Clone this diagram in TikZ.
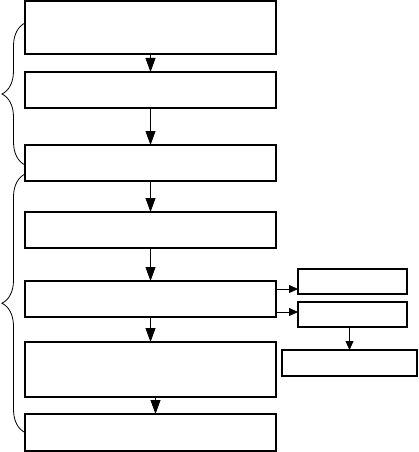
\documentclass[tikz,border=0pt]{standalone}
\usetikzlibrary{positioning,arrows.meta,decorations.pathreplacing}

\begin{document}
\begin{tikzpicture}[
    x=1pt, y=-1pt,
    box/.style={
        rectangle,
        draw=black,
        line width=1.5pt,
        minimum width=251pt,
        minimum height=36pt,
        inner sep=0pt,
        outer sep=0pt
    },
    sidebox/.style={
        rectangle,
        draw=black,
        line width=1.3pt,
        minimum width=109pt,
        minimum height=25pt,
        inner sep=0pt,
        outer sep=0pt
    },
    flow/.style={-{Triangle[width=10pt,length=14pt]}, line width=0.8pt},
    sideflow/.style={-{Triangle[width=8pt,length=9pt]}, line width=0.8pt},
    group/.style={decorate, decoration={brace, amplitude=23pt}, line width=0.8pt}
]
    \useasboundingbox (0,0) rectangle (418,452);

    % Main column
    \node[box, minimum height=53pt] (n1) at (150.5,27.5) {};
    \node[box, below=18pt of n1] (n2) {};
    \node[box, below=37pt of n2] (n3) {};
    \node[box, below=31pt of n3] (n4) {};
    \node[box, below=33pt of n4] (n5) {};
    \node[box, minimum height=55pt, below=25pt of n5] (n6) {};
    \node[box, minimum height=37pt, below=17pt of n6] (n7) {};

    % Side boxes
    \node[sidebox, anchor=north west] (side1) at (298,269) {};
    \node[sidebox, below=8pt of side1] (side2) {};
    \node[sidebox, minimum width=135pt, minimum height=26pt, below=23pt of side2, xshift=-3pt] (side3) {};

    % Arrows
    \draw[flow] (n1) -- (n2);
    \draw[flow] (n2) -- (n3);
    \draw[flow] (n3) -- (n4);
    \draw[flow] (n4) -- (n5);
    \draw[flow] (n5) -- (n6);
    \draw[flow] ([xshift=5pt]n6.south) -- ([xshift=5pt]n7.north);
    \draw[sideflow] ([yshift=-8pt]n5.north east) -- ([yshift=-8pt]n5.north east -| side1.west);
    \draw[sideflow] ([yshift=-31pt]n5.north east) -- ([yshift=-31pt]n5.north east -| side2.west);
    \draw[sideflow] (side3.north |- side2.south) -- (side3.north);

    % Braces
    \draw[group] ([yshift=-20pt]n3.north west) -- ([yshift=-22pt]n1.north west);
    \draw[group] (n7.west) -- ([yshift=7pt]n3.south west);
\end{tikzpicture}
\end{document}
